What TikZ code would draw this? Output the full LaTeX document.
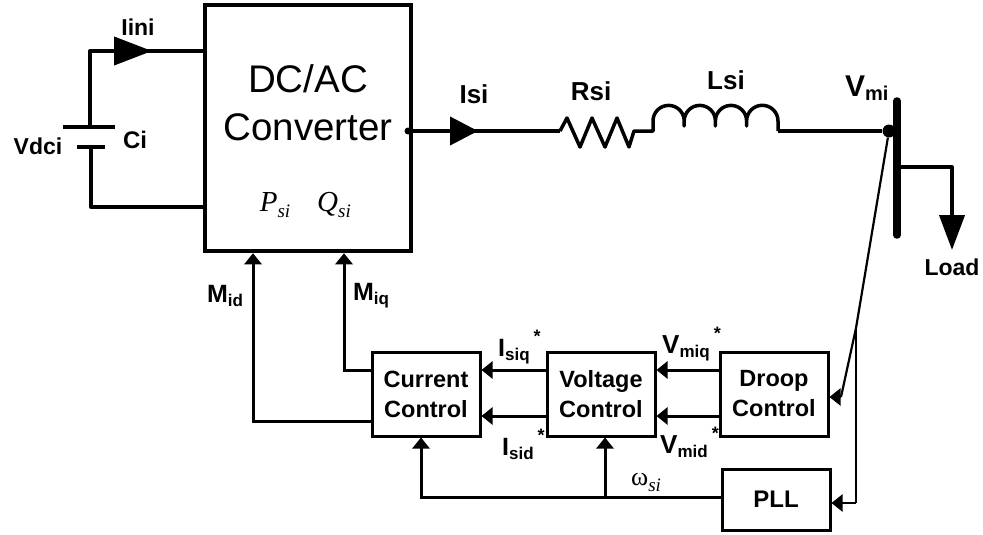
\documentclass[tikz,border=0pt]{standalone}
\usepackage{fontspec}
\setmainfont{Liberation Sans}
\newfontfamily\timesfont{Liberation Serif}
\usetikzlibrary{arrows.meta, positioning, calc}
\newcommand{\lblsub}[3]{\fontsize{#1}{#1}\selectfont #2\raisebox{-4pt}{\fontsize{17}{17}\selectfont #3}}
\newcommand{\lblstar}{\hspace{4pt}\raisebox{14pt}{\fontsize{18}{18}\selectfont *}}
\newcommand{\mathsub}[2]{{\timesfont\itshape\fontsize{29}{29}\selectfont #1\raisebox{-6pt}{\fontsize{19}{19}\selectfont #2}}}
\tikzset{
  every picture/.style={line cap=butt, line join=miter},
  wire/.style={draw=black, line width=4pt},
  power/.style={draw=black, line width=3.5pt, line join=round},
  ctrl/.style={draw=black, line width=3pt},
  sense/.style={draw=black, line width=2.2pt},
  bigtip/.style={-{Triangle[length=#1, width=28pt]}},
  bigtip/.default=38pt,
  ctrltip/.style={-{Triangle[length=11pt, width=17pt]}},
  blockbox/.style={draw=black, line width=3pt, minimum width=108pt, minimum height=84pt, align=center, inner sep=0pt, font=\bfseries\fontsize{23.5}{30}\selectfont},
  lbl/.style={font=\bfseries\fontsize{23}{26}\selectfont, inner sep=0pt},
  dotnode/.style={circle, fill=black, inner sep=0pt, minimum size=#1},
}
\begin{document}
\begin{tikzpicture}[x=1pt, y=-1pt]
  \useasboundingbox (0,0) rectangle (983,535);
  % converter and dc side
  \node[draw=black, line width=4.5pt, minimum width=206pt, minimum height=246pt, inner sep=0pt] (conv) at (308,128) {};
  \node[font=\fontsize{38.5}{48}\selectfont, align=center, inner sep=0pt] (convtext) at (308,103) {DC/AC\\Converter};
  \node[inner sep=0pt] (psi) at (275,205) {\mathsub{P}{si}};
  \node[inner sep=0pt] (qsi) at (334,205) {\mathsub{Q}{si}};
  \coordinate (captop) at (90,127);
  \coordinate (capbot) at (91,147);
  \coordinate (dctop) at (90,51);
  \coordinate (dcbot) at (91,207);
  \coordinate (iinitip) at (152,51);
  \coordinate (iinifoot) at (113,51);
  \draw[wire, line join=round] (captop) -- (dctop) -- (dctop -| conv.west);
  \draw[wire, bigtip] (iinifoot) -- (iinitip);
  \draw[wire, line join=round] (capbot) -- (dcbot) -- (dcbot -| conv.west);
  \draw[wire] (63,127) -- (115,127);
  \draw[wire] (77,147) -- (105,147);
  \node[lbl] (iini) at (138,27) {Iini};
  \node[lbl] (vdci) at (38,146) {Vdci};
  \node[lbl, font=\bfseries\fontsize{24}{26}\selectfont] (ci) at (135,140) {Ci};
  % ac side
  \node[dotnode=7pt] (outdot) at (408,131) {};
  \node[dotnode=13pt] (busdot) at (889,131) {};
  \coordinate (isifoot) at (450,131);
  \coordinate (isitip) at (478,131);
  \coordinate (rstart) at (560,131);
  \coordinate (lend) at (778,131);
  \draw[wire] (outdot) -- (rstart);
  \draw[wire, bigtip=28pt] (isifoot) -- (isitip);
  \draw[power] (rstart) -- (567,118) -- (580,147) -- (592,118) -- (605,147) -- (617,118) -- (629,147) -- (634,131) -- (653,131)
    -- (653,121) arc[start angle=180, end angle=360, radius=15.6] -- (684.2,126) -- (684.2,121) arc[start angle=180, end angle=360, radius=15.6] -- (715.4,126) -- (715.4,121) arc[start angle=180, end angle=360, radius=15.6] -- (746.6,126) -- (746.6,121) arc[start angle=180, end angle=360, radius=15.7] -- (lend);
  \draw[wire] (lend) -- (busdot);
  \draw[draw=black, line width=7.5pt, line cap=round] (897,101) -- (897,235);
  \coordinate (loadknee) at (952,167);
  \coordinate (loadfoot) at (952,215);
  \draw[wire, line join=round] (897,167) -- (loadknee) -- (loadfoot);
  \draw[wire, -{Triangle[length=35pt, width=25pt]}] (loadfoot) -- (952,250);
  \node[lbl, font=\bfseries\fontsize{26}{28}\selectfont] (isi) at (474,94) {Isi};
  \node[lbl, font=\bfseries\fontsize{26}{28}\selectfont] (rsi) at (591,91) {Rsi};
  \node[lbl, font=\bfseries\fontsize{26}{28}\selectfont] (lsi) at (726,80) {Lsi};
  \node[lbl, anchor=west] (vmi) at (845,88) {\lblsub{30}{V}{\fontsize{20}{20}\selectfont mi}};
  \node[lbl] (load) at (952,267) {Load};
  % control blocks
  \node[blockbox] (cc) at (426,394) {Current\\Control};
  \node[blockbox] (vc) at (601,394) {Voltage\\Control};
  \node[blockbox] (dc) at (774,394) {Droop\\Control};
  \node[blockbox, minimum height=61pt, font=\bfseries\fontsize{24}{26}\selectfont] (pll) at (776,499.5) {PLL};
  \coordinate (midknee) at (253,421);
  \coordinate (miqknee) at (344,370);
  \draw[ctrl, ctrltip] (cc.west |- midknee) -- (midknee) -- (midknee |- conv.south);
  \draw[ctrl, ctrltip] (cc.west |- miqknee) -- (miqknee) -- (miqknee |- conv.south);
  \coordinate (upper) at (0,370);
  \coordinate (lower) at (0,416);
  \draw[ctrl, ctrltip] (vc.west |- upper) -- (cc.east |- upper);
  \draw[ctrl, ctrltip] (vc.west |- lower) -- (cc.east |- lower);
  \draw[ctrl, ctrltip] (dc.west |- upper) -- (vc.east |- upper);
  \draw[ctrl, ctrltip] (dc.west |- lower) -- (vc.east |- lower);
  \coordinate (omegaknee) at (421,497);
  \coordinate (omegabranch) at (605,497);
  \draw[ctrl, ctrltip] (pll.west |- omegaknee) -- (omegaknee) -- (omegaknee |- cc.south);
  \draw[ctrl, ctrltip] (omegabranch) -- (omegabranch |- vc.south);
  \coordinate (sensemid) at (856,328);
  \coordinate (droopknee) at (841,397);
  \coordinate (pllknee) at (856,503);
  \draw[sense, line join=round] (busdot) -- (sensemid) -- (droopknee);
  \draw[sense, ctrltip] (droopknee) -- (droopknee -| dc.east);
  \draw[sense, line join=round] (sensemid) -- (pllknee);
  \draw[sense, ctrltip] (pllknee) -- (pllknee -| pll.east);
  % control labels
  \node[lbl] (mid) at (225,296) {\lblsub{25}{M}{id}};
  \node[lbl] (miq) at (371,296) {\lblsub{25}{M}{iq}};
  \node[lbl, anchor=west] (isiq) at (498,347) {\lblsub{25}{I}{siq}\lblstar};
  \node[lbl, anchor=west] (isid) at (502,444) {\lblsub{25}{I}{sid}\lblstar};
  \node[lbl, anchor=west] (vmiq) at (662,344) {\lblsub{26}{V}{miq}\lblstar};
  \node[lbl, anchor=west] (vmid) at (660,442) {\lblsub{26}{V}{mid}\lblstar};
  \node[inner sep=0pt, anchor=west] (omega) at (631,482) {{\timesfont\fontsize{26}{26}\selectfont ω\raisebox{-6pt}{\itshape\fontsize{19}{19}\selectfont si}}};
\end{tikzpicture}
\end{document}
